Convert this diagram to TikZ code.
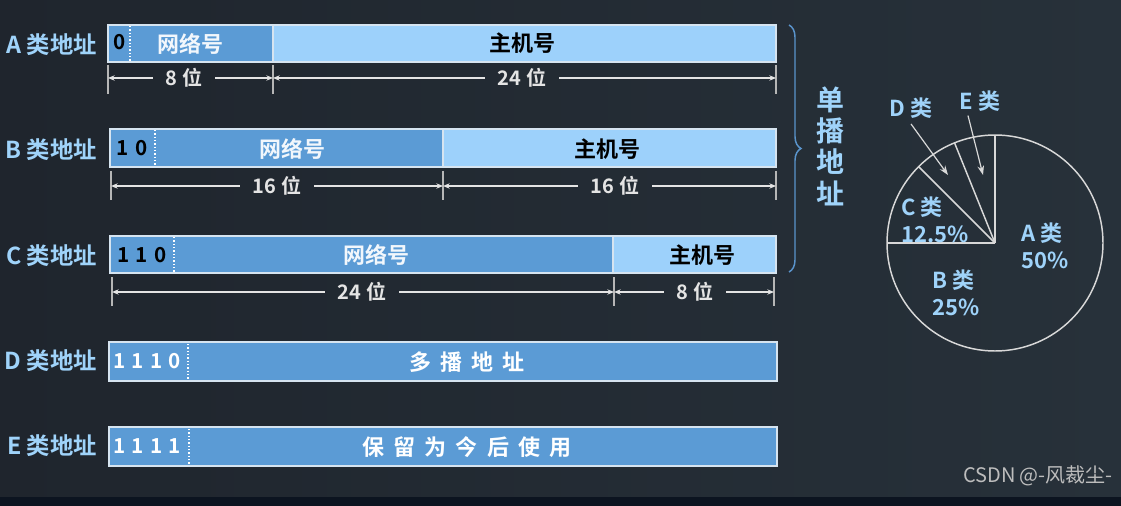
\documentclass[tikz,border=0pt]{standalone}
\usepackage{fontspec}
\setmainfont{Noto Sans CJK SC}[BoldFont={Noto Sans CJK SC Bold}]
\usetikzlibrary{arrows.meta,decorations.pathreplacing}
\definecolor{bgL}{HTML}{1F252D}
\definecolor{bgR}{HTML}{27313A}
\definecolor{bgB}{HTML}{0C1420}
\definecolor{lblue}{HTML}{9FD3FA}
\definecolor{netc}{HTML}{5B9BD5}
\definecolor{hostc}{HTML}{9DD1FB}
\definecolor{bordc}{HTML}{D6E4F0}
\definecolor{dimc}{HTML}{E4E4E4}
\definecolor{piec}{HTML}{D8D8D8}
\definecolor{bracec}{HTML}{5A94CC}
\definecolor{wmc}{HTML}{BDBDBD}
\newcommand\segbox[6]{\node[#1, minimum width={(#4-#3)*0.75pt}, minimum height={(#6-#5)*0.75pt}, anchor=north west] (#2) at (#3,#5) {};}
\newcommand\gp{\hspace{0.42em}}
\tikzset{
  netbox/.style={fill=netc, draw=bordc, line width=0.8pt, inner sep=0pt, outer sep=0pt},
  hostbox/.style={fill=hostc, draw=bordc, line width=0.8pt, inner sep=0pt, outer sep=0pt},
  widebox/.style={fill=netc, draw=bordc, line width=1.5pt, inner sep=0pt, outer sep=0pt},
  rowlbl/.style={text=lblue, font=\bfseries\fontsize{17.5}{20}\selectfont, anchor=east, inner sep=0pt},
  nettxt/.style={text=white!92!netc, font=\bfseries\fontsize{16.5}{19}\selectfont, inner sep=0pt},
  hosttxt/.style={text=black, font=\bfseries\fontsize{16.5}{19}\selectfont, inner sep=0pt},
  bittxt/.style={text=black, font=\bfseries\fontsize{15.5}{18}\selectfont, inner sep=0pt},
  wbittxt/.style={text=white, font=\bfseries\fontsize{15.5}{18}\selectfont, inner sep=0pt},
  dotline/.style={draw=white, line width=1pt, dash pattern=on 1pt off 1.5pt},
  tickline/.style={draw=dimc!80!black, line width=0.8pt},
  dimlbl/.style={text=dimc, font=\bfseries\fontsize{15}{17}\selectfont, inner xsep=9pt, inner ysep=0pt},
  dimarrow/.style={draw=dimc, line width=1.1pt, -{Stealth[length=5pt,width=4pt]}},
  pieline/.style={draw=piec, line width=1.1pt},
  pielbl/.style={text=lblue, font=\bfseries\fontsize{16.5}{20}\selectfont, align=left, inner sep=0pt},
  piearrow/.style={draw=piec, line width=0.9pt, -{Stealth[length=7pt,width=5pt]}},
}
\begin{document}
\begin{tikzpicture}[x=0.75pt,y=-0.75pt]
\useasboundingbox (0,0) rectangle (1121,506);
\fill[left color=bgL, right color=bgR] (0,0) rectangle (1121,497);
\fill[bgB] (0,497) rectangle (1121,506);

% ---- A row
\node[rowlbl] (la) at (97,45) {A 类地址};
\segbox{netbox}{anet}{108}{273}{25}{62}
\segbox{hostbox}{ahost}{273}{776}{25}{62}
\draw[dotline] (130,26) -- (130,61);
\node[bittxt] (abits) at (120,42) {0};
\node[nettxt] (atxt) at (190,43.5) {网络号};
\node[hosttxt] (ahtxt) at (522,43.5) {主机号};
\draw[tickline] (108,65) -- (108,94);
\draw[tickline] (273,65) -- (273,94);
\draw[tickline] (776,65) -- (776,94);
\coordinate (a0) at (108,78);
\coordinate (a1) at (273,78);
\coordinate (a2) at (776,78);
\node[dimlbl] (ad1) at (184,78) {8\hspace{0.3em}位};
\node[dimlbl] (ad2) at (522,78) {24\hspace{0.3em}位};
\draw[dimarrow] (ad1.west) -- (a0);
\draw[dimarrow] (ad1.east) -- (a1);
\draw[dimarrow] (ad2.west) -- (a1);
\draw[dimarrow] (ad2.east) -- (a2);

% ---- B row
\node[rowlbl] (lb) at (97,150) {B 类地址};
\segbox{netbox}{bnet}{110}{443}{129}{167}
\segbox{hostbox}{bhost}{443}{776}{129}{167}
\draw[dotline] (155,130) -- (155,166);
\node[bittxt] (bbits) at (132,148) {1\hspace{0.3em}0};
\node[nettxt] (btxt) at (292,149) {网络号};
\node[hosttxt] (bhtxt) at (607,149) {主机号};
\draw[tickline] (111,171) -- (111,200);
\draw[tickline] (443,171) -- (443,200);
\draw[tickline] (776,171) -- (776,200);
\coordinate (b0) at (111,186);
\coordinate (b1) at (443,186);
\coordinate (b2) at (776,186);
\node[dimlbl] (bd1) at (277,186) {16\hspace{0.3em}位};
\node[dimlbl] (bd2) at (615,186) {16\hspace{0.3em}位};
\draw[dimarrow] (bd1.west) -- (b0);
\draw[dimarrow] (bd1.east) -- (b1);
\draw[dimarrow] (bd2.west) -- (b1);
\draw[dimarrow] (bd2.east) -- (b2);

% ---- C row
\node[rowlbl] (lc) at (97,256) {C 类地址};
\segbox{netbox}{cnet}{110}{613}{236}{273}
\segbox{hostbox}{chost}{613}{776}{236}{273}
\draw[dotline] (174,237) -- (174,272);
\node[bittxt] (cbits) at (142,255) {1\hspace{0.3em}1\hspace{0.3em}0};
\node[nettxt] (ctxt) at (376,255) {网络号};
\node[hosttxt] (chtxt) at (702,255) {主机号};
\draw[tickline] (112,277) -- (112,306);
\draw[tickline] (614,277) -- (614,306);
\draw[tickline] (774,277) -- (774,306);
\coordinate (c0) at (112,292);
\coordinate (c1) at (614,292);
\coordinate (c2) at (774,292);
\node[dimlbl] (cd1) at (362,292) {24\hspace{0.3em}位};
\node[dimlbl] (cd2) at (695,292) {8\hspace{0.3em}位};
\draw[dimarrow] (cd1.west) -- (c0);
\draw[dimarrow] (cd1.east) -- (c1);
\draw[dimarrow] (cd2.west) -- (c1);
\draw[dimarrow] (cd2.east) -- (c2);

% ---- D row
\node[rowlbl] (ld) at (97,361) {D 类地址};
\segbox{widebox}{dbox}{109}{777}{342}{381}
\draw[dotline] (188,344) -- (188,380);
\node[wbittxt] (dbits) at (147,361) {1\hspace{0.3em}1\hspace{0.3em}1\hspace{0.3em}0};
\node[nettxt, text=white] (dtxt) at (467,362) {多\gp 播\gp 地\gp 址};

% ---- E row
\node[rowlbl] (le) at (97,446) {E 类地址};
\segbox{widebox}{ebox}{109}{777}{427}{466}
\draw[dotline] (189,429) -- (189,465);
\node[wbittxt] (ebits) at (147,446) {1\hspace{0.3em}1\hspace{0.3em}1\hspace{0.3em}1};
\node[nettxt, text=white] (etxt) at (467,447) {保\gp 留\gp 为\gp 今\gp 后\gp 使\gp 用};

% ---- brace
\draw[draw=bracec, line width=1.1pt, decorate, decoration={brace, amplitude=9pt}] (789,25) -- (789,272);
\node[text=lblue, font=\bfseries\fontsize{21}{23.5}\selectfont, align=center, inner sep=0pt] (uni) at (830,146) {单\\播\\地\\址};

% ---- pie
\node[circle, draw=piec, line width=1.1pt, minimum size={216*0.75pt}, inner sep=0pt, outer sep=0pt] (pie) at (995,243) {};
\draw[pieline] (pie.center) -- (pie.90);
\draw[pieline] (pie.center) -- (pie.180);
\draw[pieline] (pie.center) -- (pie.135);
\draw[pieline] (pie.center) -- (pie.112.5);
\node[pielbl, anchor=west] (pc) at (901,220) {C 类\\12.5\%};
\node[pielbl, anchor=west] (pa) at (1021,246) {A 类\\50\%};
\node[pielbl, anchor=west] (pb) at (932,293) {B 类\\25\%};
\node[pielbl] (pd) at (911,108) {D 类};
\node[pielbl] (pe) at (980,101) {E 类};
\coordinate (dtip) at (948,175);
\coordinate (etip) at (983,175);
\draw[piearrow] ([yshift=-4pt]pd.south) -- (dtip);
\draw[piearrow] ([xshift=-9pt,yshift=-3pt]pe.south) -- (etip);

% ---- watermark
\node[text=wmc, font=\fontsize{15}{17}\selectfont, anchor=east, inner sep=0pt] (wm) at (1113,476) {CSDN @-风裁尘-};
\end{tikzpicture}
\end{document}
